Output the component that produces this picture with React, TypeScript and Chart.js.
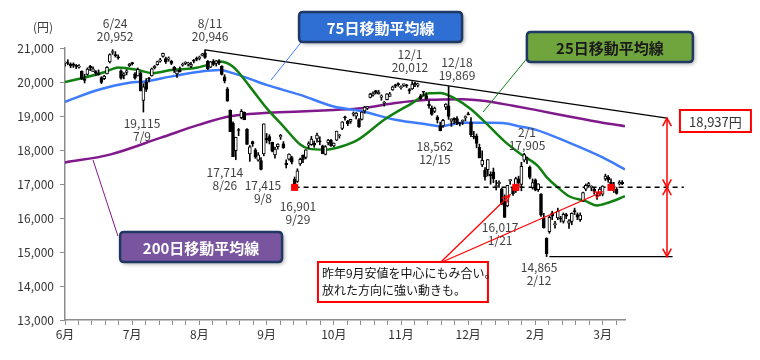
import React, { useEffect, useRef } from 'react';
import { Chart, registerables } from 'chart.js';

Chart.register(...registerables);

const FONT = '"Noto Sans CJK JP", "Noto Sans", sans-serif';

// ---- x axis: trading-day index, major tick every 24 days, 5 minor steps ----
const monthLabels = ['6月', '7月', '8月', '9月', '10月', '11月', '12月', '2月', '3月'];
const daysPerMajor = 24;
const minorPerMajor = 5;
const lastDay = 200;

// ---- daily candles [open, high, low, close] ----
const jun: number[][] = [
  [20563, 20576, 20467, 20569], [20570, 20655, 20504, 20543], [20517, 20562, 20419, 20473],
  [20530, 20563, 20428, 20488], [20461, 20515, 20394, 20460], [20437, 20509, 20407, 20457],
  [20321, 20327, 20071, 20096], [20092, 20230, 19971, 20046], [20226, 20416, 20195, 20382],
  [20468, 20489, 20334, 20407], [20314, 20445, 20312, 20387], [20306, 20337, 20194, 20257],
  [20248, 20355, 20199, 20219], [20131, 20155, 19954, 19990], [20099, 20197, 20070, 20174],
  [20240, 20453, 20236, 20428], [20589, 20829, 20559, 20809], [20867, 20952, 20812, 20868],
  [20807, 20895, 20735, 20772], [20739, 20800, 20669, 20706], [20329, 20355, 20084, 20109],
  [20189, 20274, 20093, 20235],
];
const jul: number[][] = [
  [20285, 20365, 20210, 20329], [20477, 20548, 20450, 20522], [20565, 20583, 20500, 20539],
  [20241, 20276, 20081, 20112], [20176, 20413, 20175, 20376], [20268, 20291, 19737, 19737],
  [19460, 19950, 19115, 19855], [20000, 20100, 19720, 19779], [20090, 20140, 20002, 20089],
  [20177, 20412, 20170, 20385], [20417, 20486, 20384, 20463], [20507, 20616, 20493, 20600],
  [20612, 20696, 20582, 20650], [20749, 20850, 20732, 20841], [20688, 20730, 20545, 20593],
  [20671, 20739, 20613, 20683], [20608, 20635, 20512, 20544], [20433, 20456, 20281, 20350],
  [20239, 20328, 20137, 20328], [20357, 20443, 20293, 20302], [20493, 20557, 20465, 20522],
  [20547, 20595, 20510, 20585],
];
const aug: number[][] = [
  [20534, 20581, 20469, 20548], [20458, 20577, 20421, 20520], [20621, 20664, 20561, 20614],
  [20683, 20735, 20622, 20664], [20692, 20762, 20648, 20724], [20785, 20844, 20766, 20808],
  [20856, 20946, 20695, 20720], [20609, 20635, 20361, 20392], [20437, 20603, 20425, 20595],
  [20613, 20660, 20485, 20519], [20550, 20635, 20467, 20620], [20617, 20663, 20509, 20554],
  [20471, 20479, 20204, 20222], [20152, 20214, 19972, 20033], [19798, 19839, 19435, 19435],
  [19167, 19180, 18540, 18540], [18786, 18832, 17806, 17806], [17978, 18376, 17714, 18376],
  [18580, 18632, 18421, 18574], [18950, 19192, 18917, 19136], [19109, 19121, 18889, 18890],
];
const sep: number[][] = [
  [18607, 18628, 18165, 18165], [17886, 18134, 17666, 18095], [18250, 18262, 18105, 18182],
  [18003, 18044, 17754, 17792], [17703, 17926, 17670, 17860], [17688, 17780, 17415, 17427],
  [17882, 18770, 17828, 18770], [18346, 18486, 18206, 18299], [18396, 18449, 18178, 18264],
  [18229, 18232, 17946, 17965], [17852, 18085, 17760, 18026], [18098, 18186, 18027, 18171],
  [18384, 18459, 18312, 18432], [18181, 18246, 18048, 18070], [17615, 17710, 17471, 17571],
  [17728, 17891, 17703, 17880], [17778, 17818, 17589, 17645], [17137, 17205, 16901, 16931],
  [17077, 17447, 17046, 17388],
];
const oct: number[][] = [
  [17590, 17763, 17545, 17722], [17850, 17857, 17627, 17725], [17779, 18014, 17739, 18005],
  [18142, 18243, 18040, 18186], [18156, 18400, 18137, 18322], [18203, 18266, 18079, 18141],
  [18325, 18500, 18233, 18438], [18272, 18389, 18152, 18234], [18126, 18144, 17891, 17891],
  [17870, 18130, 17856, 18097], [18208, 18314, 18150, 18291], [18285, 18317, 18105, 18131],
  [18118, 18207, 18090, 18207], [18287, 18554, 18275, 18554], [18419, 18455, 18351, 18435],
  [18633, 18834, 18597, 18825], [18963, 19000, 18881, 18947], [18841, 18872, 18717, 18777],
  [18842, 18903, 18785, 18903], [19052, 19119, 19000, 19083], [18997, 19104, 18913, 19083],
];
const nov: number[][] = [
  [18893, 18924, 18665, 18683], [18900, 19129, 18882, 19116], [19150, 19284, 19079, 19265],
  [19239, 19286, 19187, 19265], [19550, 19670, 19531, 19642], [19609, 19712, 19582, 19671],
  [19748, 19751, 19648, 19697], [19655, 19754, 19640, 19697], [19546, 19623, 19461, 19596],
  [19374, 19429, 19290, 19393], [19480, 19656, 19470, 19649], [19579, 19694, 19578, 19649],
  [19770, 19880, 19753, 19859], [19918, 19935, 19833, 19879], [19949, 19976, 19874, 19924],
  [19834, 19885, 19788, 19847], [19902, 19946, 19868, 19944], [19920, 19932, 19839, 19883],
  [19771, 19807, 19660, 19747],
];
const dec: number[][] = [
  [19800, 20012, 19779, 19938], [19954, 19998, 19859, 19939], [19905, 19967, 19855, 19940],
  [19592, 19638, 19492, 19504], [19701, 19717, 19592, 19698], [19603, 19683, 19487, 19492],
  [19340, 19444, 19230, 19301], [19235, 19296, 19020, 19046], [19135, 19264, 19098, 19230],
  [18969, 19011, 18793, 18883], [18712, 18821, 18562, 18565], [18708, 18904, 18662, 18873],
  [19263, 19363, 19187, 19353], [19300, 19869, 18900, 18986], [18848, 18917, 18694, 18916],
  [18931, 18950, 18775, 18886], [18922, 18981, 18748, 18789], [18799, 18813, 18706, 18769],
  [18838, 18888, 18747, 18873], [18949, 19006, 18856, 18982], [19061, 19113, 19033, 19033],
];
const jan: number[][] = [
  [18818, 18951, 18394, 18450], [18398, 18547, 18327, 18374], [18410, 18469, 18064, 18191],
  [18078, 18172, 17767, 17767], [17562, 17975, 17509, 17697], [17407, 17483, 17113, 17218],
  [17423, 17715, 17235, 17715], [17283, 17359, 16994, 17240], [17357, 17469, 17038, 17147],
  [16926, 17109, 16823, 16955], [17010, 17090, 16900, 17048], [16857, 16871, 16387, 16416],
  [16500, 16680, 16017, 16017], [16355, 16960, 16330, 16958], [17100, 17130, 16990, 17110],
  [16880, 16900, 16665, 16708], [16800, 17200, 16750, 17163], [17150, 17230, 16920, 17041],
  [16990, 17640, 16800, 17518],
];
const feb: number[][] = [
  [17700, 17905, 17650, 17865], [17720, 17790, 17600, 17750], [17500, 17530, 17150, 17191],
  [16900, 17150, 16850, 17044], [17120, 17150, 16800, 16819], [16830, 17010, 16780, 17004],
  [16700, 16720, 16050, 16085], [16000, 16140, 15700, 15713], [15400, 15420, 14865, 14952],
  [15600, 16060, 15550, 16022], [16150, 16200, 15950, 16054], [15800, 15900, 15700, 15837],
  [16000, 16290, 15950, 16196], [16000, 16050, 15880, 15967], [15900, 16150, 15850, 16111],
  [16100, 16140, 15980, 16052], [15850, 15950, 15690, 15915], [15900, 16150, 15800, 16140],
  [16200, 16290, 16100, 16188], [16100, 16150, 15950, 16027],
];
const mar: number[][] = [
  [15950, 16150, 15900, 16085], [16500, 16760, 16480, 16747], [16850, 17000, 16800, 16961],
  [16950, 17050, 16900, 17015], [16900, 16950, 16800, 16911], [16850, 16900, 16700, 16783],
  [16650, 16750, 16550, 16642], [16700, 16900, 16650, 16853], [16700, 16950, 16650, 16939],
  [17150, 17290, 17100, 17233], [17200, 17250, 17050, 17117], [17050, 17150, 16900, 16975],
  [16900, 17050, 16750, 16937], [16850, 16900, 16700, 16725], [17000, 17100, 16970, 17049],
  [17050, 17100, 16980, 17001],
];

// ---- moving averages: [day, value] ----
const ma25: number[][] = [
  [0, 20000], [6, 20110], [14, 20285], [19, 20430], [26, 20355], [31, 20260], [38, 20355],
  [46, 20405], [51, 20500], [55, 20600], [60, 20450], [66, 19865], [72, 19230], [78, 18695],
  [84, 18160], [87, 18040], [93, 18010], [99, 18110], [105, 18320], [114, 18890], [124, 19380],
  [130, 19670], [134, 19680], [139, 19525], [145, 19200], [151, 18740], [157, 18255],
  [163, 17865], [169, 17520], [172, 17200], [176, 16900], [180, 16640], [186, 16495],
  [190, 16370], [194, 16450], [200, 16640],
];
const ma75: number[][] = [
  [0, 19417], [12, 19770], [23, 19980], [28, 20010], [39, 20180], [48, 20300], [55, 20350],
  [60, 20260], [66, 20090], [72, 19915], [84, 19620], [96, 19280], [106, 19140], [118, 18890],
  [130, 18745], [134, 18700], [138, 18750], [142, 18800], [152, 18800], [157, 18790],
  [162, 18700], [168, 18600], [180, 18215], [192, 17780], [200, 17430],
];
const ma200: number[][] = [
  [0, 17633], [16, 17865], [34, 18355], [48, 18745], [59, 18990], [71, 19085], [84, 19130],
  [96, 19180], [106, 19230], [118, 19380], [130, 19475], [142, 19495], [150, 19440],
  [160, 19300], [168, 19180], [180, 18985], [192, 18800], [200, 18700],
];

// ---- reference levels ----
const resistanceLine: number[][] = [[50, 20946], [215, 18937]];
const supportLevel = 16901;
const supportSpan = [82, 221];
const lowLevel = 14865;
const lowSpan = [173, 217];
const targetLevel = 18937;
const arrowDay = 215;
const markerDays = [82, 161, 195];

// ---- annotations: anchors in (day, value) ----
const pointLabels = [
  { lines: ['6/24', '20,952'], day: 17.9, value: 21735 },
  { lines: ['8/11', '20,946'], day: 51.8, value: 21735 },
  { lines: ['19,115', '7/9'], day: 27.5, value: 18794 },
  { lines: ['17,714', '8/26'], day: 57.1, value: 17353 },
  { lines: ['17,415', '9/8'], day: 70.7, value: 16970 },
  { lines: ['16,901', '9/29'], day: 83.2, value: 16353 },
  { lines: ['12/1', '20,012'], day: 123.2, value: 20823 },
  { lines: ['12/18', '19,869'], day: 140, value: 20588 },
  { lines: ['18,562', '12/15'], day: 132.1, value: 18117 },
  { lines: ['2/1', '17,905'], day: 165, value: 18529 },
  { lines: ['16,017', '1/21'], day: 155.4, value: 15735 },
  { lines: ['14,865', '2/12'], day: 169.3, value: 14559 },
];
const maBoxes = [
  { text: '75日移動平均線', day: 112.7, value: 21617, w: 163, h: 30, fill: '#2f6ed2', color: '#ffffff', lead: [[85, 21235], [73.6, 20058]], leadColor: '#3d7bff' },
  { text: '25日移動平均線', day: 194.6, value: 21029, w: 166, h: 30, fill: '#6fa53c', color: '#1a1a1a', lead: [[165.4, 20735], [149.3, 19117]], leadColor: '#108010' },
  { text: '200日移動平均線', day: 48.6, value: 15147, w: 162, h: 30, fill: '#7a559f', color: '#ffffff', lead: [[18.9, 15470], [10, 17706]], leadColor: '#80198c' },
];
const calloutLines = ['昨年9月安値を中心にもみ合い。', '放れた方向に強い動きも。'];
const callout = { day: 120.7, value: 14118, w: 170, h: 40, from: [133.9, 14676], tips: [[158.9, 16676], [191.8, 16764]] };
const targetBox = { text: '18,937円', day: 232.3, value: 18853, w: 71, h: 22 };

function roundRect(ctx: CanvasRenderingContext2D, x: number, y: number, w: number, h: number, r: number) {
  ctx.beginPath();
  ctx.moveTo(x + r, y);
  ctx.lineTo(x + w - r, y);
  ctx.quadraticCurveTo(x + w, y, x + w, y + r);
  ctx.lineTo(x + w, y + h - r);
  ctx.quadraticCurveTo(x + w, y + h, x + w - r, y + h);
  ctx.lineTo(x + r, y + h);
  ctx.quadraticCurveTo(x, y + h, x, y + h - r);
  ctx.lineTo(x, y + r);
  ctx.quadraticCurveTo(x, y, x + r, y);
  ctx.closePath();
}

function arrowHead(ctx: CanvasRenderingContext2D, x1: number, y1: number, x2: number, y2: number, len: number, spread: number) {
  const a = Math.atan2(y2 - y1, x2 - x1);
  ctx.beginPath();
  ctx.moveTo(x2 - len * Math.cos(a - spread), y2 - len * Math.sin(a - spread));
  ctx.lineTo(x2, y2);
  ctx.lineTo(x2 - len * Math.cos(a + spread), y2 - len * Math.sin(a + spread));
  ctx.stroke();
}

const overlayPlugin = {
  id: 'overlay',
  afterDraw(chart: any) {
    const { ctx, scales } = chart;
    const xs = scales.x;
    const ys = scales.y;
    const px = (d: number) => xs.getPixelForValue(d);
    const py = (v: number) => ys.getPixelForValue(v);
    ctx.save();

    // unit label
    ctx.font = `12px ${FONT}`;
    ctx.fillStyle = '#404040';
    ctx.textAlign = 'center';
    ctx.textBaseline = 'middle';
    ctx.fillText('(円)', px(0) - 22, py(21000) - 21);

    // high/low labels
    for (const l of pointLabels) {
      l.lines.forEach((t, k) => ctx.fillText(t, px(l.day), py(l.value) + k * 13.5));
    }

    // double arrows
    ctx.strokeStyle = '#ff0000';
    ctx.lineWidth = 1.5;
    const ax = px(arrowDay);
    const segs = [[targetLevel, supportLevel], [supportLevel, lowLevel]];
    for (const [a, b] of segs) {
      const y1 = py(a);
      const y2 = py(b);
      ctx.beginPath();
      ctx.moveTo(ax, y1);
      ctx.lineTo(ax, y2);
      ctx.stroke();
      arrowHead(ctx, ax, y2, ax, y1, 9, 0.5);
      arrowHead(ctx, ax, y1, ax, y2, 9, 0.5);
    }

    // target box
    {
      const cx = px(targetBox.day);
      const cy = py(targetBox.value);
      ctx.fillStyle = '#ffffff';
      ctx.fillRect(cx - targetBox.w / 2, cy - targetBox.h / 2, targetBox.w, targetBox.h);
      ctx.strokeStyle = '#ff0000';
      ctx.lineWidth = 2;
      ctx.strokeRect(cx - targetBox.w / 2, cy - targetBox.h / 2, targetBox.w, targetBox.h);
      ctx.fillStyle = '#333333';
      ctx.font = `13px ${FONT}`;
      ctx.textAlign = 'center';
      ctx.fillText(targetBox.text, cx, cy + 1);
    }

    // callout arrows
    ctx.strokeStyle = '#ff0000';
    ctx.lineWidth = 1.3;
    for (const [td, tv] of callout.tips) {
      const x1 = px(callout.from[0]);
      const y1 = py(callout.from[1]);
      const x2 = px(td);
      const y2 = py(tv);
      ctx.beginPath();
      ctx.moveTo(x1, y1);
      ctx.lineTo(x2, y2);
      ctx.stroke();
      arrowHead(ctx, x1, y1, x2, y2, 9, 0.4);
    }
    // callout box
    {
      const cx = px(callout.day);
      const cy = py(callout.value);
      const x0 = cx - callout.w / 2;
      const y0 = cy - callout.h / 2;
      ctx.fillStyle = '#ffffff';
      ctx.fillRect(x0, y0, callout.w, callout.h);
      ctx.strokeStyle = '#ff0000';
      ctx.lineWidth = 2;
      ctx.strokeRect(x0, y0, callout.w, callout.h);
      ctx.fillStyle = '#111111';
      ctx.font = `12px ${FONT}`;
      ctx.textAlign = 'left';
      calloutLines.forEach((t, k) => ctx.fillText(t, x0 + 4, y0 + 11 + k * 17));
    }

    // MA label boxes
    for (const b of maBoxes) {
      ctx.strokeStyle = b.leadColor;
      ctx.lineWidth = 1;
      ctx.beginPath();
      ctx.moveTo(px(b.lead[0][0]), py(b.lead[0][1]));
      ctx.lineTo(px(b.lead[1][0]), py(b.lead[1][1]));
      ctx.stroke();

      const cx = px(b.day);
      const cy = py(b.value);
      const x0 = cx - b.w / 2;
      const y0 = cy - b.h / 2;
      ctx.save();
      ctx.shadowColor = 'rgba(0,0,0,0.35)';
      ctx.shadowBlur = 4;
      ctx.shadowOffsetX = 2;
      ctx.shadowOffsetY = 2;
      roundRect(ctx, x0, y0, b.w, b.h, 4);
      ctx.fillStyle = b.fill;
      ctx.fill();
      ctx.restore();
      roundRect(ctx, x0, y0, b.w, b.h, 4);
      ctx.strokeStyle = '#203864';
      ctx.lineWidth = 2.5;
      ctx.stroke();
      ctx.fillStyle = b.color;
      ctx.font = `bold 15px ${FONT}`;
      ctx.textAlign = 'center';
      ctx.textBaseline = 'middle';
      ctx.fillText(b.text, cx, cy + 1);
    }
    ctx.restore();
  },
};

export default function App() {
  const ref = useRef<HTMLCanvasElement>(null);

  useEffect(() => {
    const candles = [...jun, ...jul, ...aug, ...sep, ...oct, ...nov, ...dec, ...jan, ...feb, ...mar];
    const wickData = candles.map((c, i) => ({ x: i, y: [c[2], c[1]] }));
    const bodyData = candles.map((c, i) => ({ x: i, y: [c[0], c[3]] }));
    const bodyFill = candles.map((c) => (c[3] >= c[0] ? '#ffffff' : '#000000'));
    const toPts = (arr: number[][]) => arr.map(([d, v]) => ({ x: d, y: v }));

    const majorCount = Math.floor(lastDay / (daysPerMajor / minorPerMajor)) + 1;
    const step = daysPerMajor / minorPerMajor;

    const chart = new Chart(ref.current as HTMLCanvasElement, {
      type: 'line',
      data: {
        datasets: [
          {
            type: 'line',
            data: markerDays.map((d) => ({ x: d, y: supportLevel })),
            showLine: false,
            pointStyle: 'rect',
            pointRadius: 5,
            pointBackgroundColor: '#ff0000',
            pointBorderWidth: 0,
            order: 0,
          } as any,
          {
            type: 'bar',
            data: bodyData,
            backgroundColor: bodyFill,
            borderColor: '#000000',
            borderWidth: 1,
            borderSkipped: false,
            barThickness: 3,
            minBarLength: 1,
            grouped: false,
            order: 1,
          } as any,
          {
            type: 'bar',
            data: wickData,
            backgroundColor: '#000000',
            borderWidth: 0,
            barThickness: 1,
            grouped: false,
            order: 2,
          } as any,
          {
            type: 'line',
            data: toPts(resistanceLine),
            borderColor: '#000000',
            borderWidth: 1.3,
            pointRadius: 0,
            clip: false,
            order: 3,
          } as any,
          {
            type: 'line',
            data: supportSpan.map((d) => ({ x: d, y: supportLevel })),
            borderColor: '#000000',
            borderWidth: 1.5,
            borderDash: [5, 4],
            pointRadius: 0,
            clip: false,
            order: 3,
          } as any,
          {
            type: 'line',
            data: lowSpan.map((d) => ({ x: d, y: lowLevel })),
            borderColor: '#000000',
            borderWidth: 1.3,
            pointRadius: 0,
            clip: false,
            order: 3,
          } as any,
          {
            type: 'line',
            data: toPts(ma25),
            borderColor: '#108010',
            borderWidth: 2.5,
            pointRadius: 0,
            cubicInterpolationMode: 'monotone',
            order: 4,
          } as any,
          {
            type: 'line',
            data: toPts(ma75),
            borderColor: '#3d7bff',
            borderWidth: 2.5,
            pointRadius: 0,
            cubicInterpolationMode: 'monotone',
            order: 5,
          } as any,
          {
            type: 'line',
            data: toPts(ma200),
            borderColor: '#80198c',
            borderWidth: 2.5,
            pointRadius: 0,
            cubicInterpolationMode: 'monotone',
            order: 6,
          } as any,
        ],
      },
      options: {
        responsive: false,
        animation: false,
        events: [],
        layout: { padding: { top: 48, right: 135, bottom: 0, left: 0 } },
        plugins: { legend: { display: false }, tooltip: { enabled: false } },
        scales: {
          x: {
            type: 'linear',
            min: 0,
            max: lastDay,
            offset: false,
            afterBuildTicks: (s: any) => {
              s.ticks = Array.from({ length: majorCount }, (_, k) => ({ value: k * step }));
            },
            afterFit: (s: any) => {
              s.height = 40;
            },
            ticks: {
              autoSkip: false,
              maxRotation: 0,
              minRotation: 0,
              padding: 2,
              color: '#333333',
              font: { size: 12, family: FONT },
              callback: (_v: any, idx: number) => (idx % minorPerMajor === 0 ? monthLabels[idx / minorPerMajor] ?? '' : ''),
            },
            grid: { drawOnChartArea: false, drawTicks: true, tickLength: 5, color: '#8c8c8c', offset: false },
            border: { display: true, color: '#8c8c8c', width: 1.5 },
          },
          y: {
            type: 'linear',
            min: 13000,
            max: 21000,
            afterFit: (s: any) => {
              s.width = 65;
            },
            ticks: {
              stepSize: 1000,
              padding: 6,
              color: '#333333',
              font: { size: 12, family: FONT },
              callback: (v: any) => Number(v).toLocaleString('en-US'),
            },
            grid: { drawOnChartArea: false, drawTicks: true, tickLength: 5, color: '#8c8c8c' },
            border: { display: true, color: '#8c8c8c', width: 1.5 },
          },
        },
      } as any,
      plugins: [overlayPlugin],
    });
    return () => chart.destroy();
  }, []);

  return (
    <div style={{ position: 'fixed', left: 0, top: 0, width: 760, height: 360, background: '#ffffff' }}>
      <canvas ref={ref} width={760} height={360} style={{ display: 'block', width: 760, height: 360 }} />
    </div>
  );
}
